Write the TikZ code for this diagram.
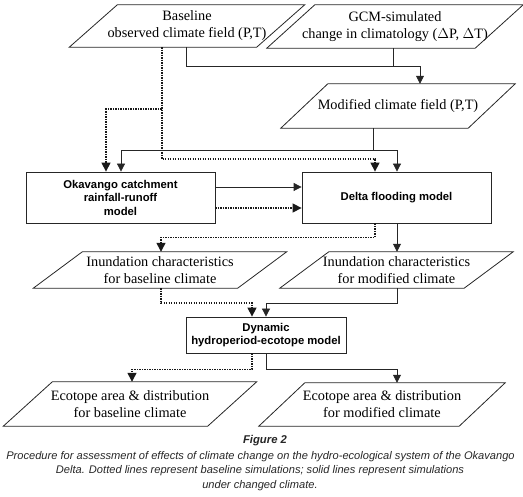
\documentclass[tikz,border=0pt]{standalone}
\usepackage{fontspec}
\setmainfont{Liberation Serif}
\setsansfont{Liberation Sans}
\usetikzlibrary{arrows.meta,calc}
\tikzset{
  paratext/.style={inner sep=0pt, align=center, font=\fontsize{14.3}{17}\selectfont},
  boxnode/.style={draw=black!85, line width=0.8pt, inner sep=0pt, align=center, font=\sffamily\bfseries\fontsize{11.3}{13.5}\selectfont},
  shapeline/.style={draw=black!85, line width=0.8pt, line join=miter},
  solidline/.style={draw=black!85, line width=0.8pt, -{Triangle[length=8pt,width=8pt]}},
  plainline/.style={draw=black!85, line width=0.8pt},
  dotline/.style={draw=black!90, line width=1.4pt, dash pattern=on 1.4pt off 1.1pt, -{Triangle[length=9pt,width=9pt]}},
  captxt/.style={inner sep=0pt, font=\sffamily\itshape\fontsize{11.1}{13}\selectfont, text=black!85},
  capbold/.style={inner sep=0pt, font=\sffamily\bfseries\itshape\fontsize{11.3}{13}\selectfont, text=black!85},
}
\newcommand\mypara[7]{%
  \node[paratext, minimum width=#4pt, minimum height=#5pt] (#1) at (#2,#3) {#7};
  \draw[shapeline] ([xshift=#6pt/2]#1.north west) -- ([xshift=#6pt/2]#1.north east)
     -- ([xshift=-#6pt/2]#1.south east) -- ([xshift=-#6pt/2]#1.south west) -- cycle;}
\begin{document}
\begin{tikzpicture}[x=1pt,y=1pt]
\useasboundingbox (0,0) rectangle (523,497);
% parallelograms
\mypara{base}{187}{471}{187}{42}{48}{Baseline\\observed climate field (P,T)}
\mypara{gcm}{395}{470.5}{208}{43}{48}{GCM-simulated\\change in climatology ($\Delta$P, $\Delta$T)}
\mypara{modf}{398}{391}{187}{44}{47}{Modified climate field (P,T)}
\mypara{inb}{160}{227}{204}{36}{49}{Inundation characteristics\\for baseline climate}
\mypara{inm}{396.5}{227}{184}{36}{49}{Inundation characteristics\\for modified climate}
\mypara{ecb}{130}{93}{204}{44}{49}{Ecotope area \& distribution\\for baseline climate}
\mypara{ecm}{382}{92.5}{200}{43}{46}{Ecotope area \& distribution\\for modified climate}
% boxes
\node[boxnode, minimum width=189pt, minimum height=51pt] (okav) at (120.5,299.5) {Okavango catchment\\rainfall-runoff\\model};
\node[boxnode, minimum width=189pt, minimum height=51pt] (delta) at (396.5,299.5) {Delta flooding model};
\node[boxnode, minimum width=160pt, minimum height=36pt] (dyn) at (266,162) {Dynamic\\hydroperiod-ecotope model};
% connectors: climate fields
\draw[solidline] ([xshift=-1pt]base.south) -- ++(0,-19) -| ([xshift=22pt]modf.north);
\draw[plainline] ([xshift=-2pt]gcm.south) -- ++(0,-18.5);
\draw[dotline] ([xshift=-25pt]base.south) -- ++(0,-62) -| ([xshift=-14.5pt]okav.north);
\draw[dotline] ([xshift=-25pt]base.south) -- ++(0,-112) -| ([xshift=-21.5pt]delta.north);
\draw[solidline] ([xshift=-25pt]modf.south) -- ++(0,-22) coordinate (m1) -| ([xshift=0.5pt]okav.north);
\draw[solidline] (m1) -| ([xshift=0.5pt]delta.north);
% catchment -> delta
\draw[solidline] ([yshift=10.5pt]okav.east) -- ([yshift=10.5pt]delta.west);
\draw[dotline] ([yshift=-10.5pt]okav.east) -- ([yshift=-10.5pt]delta.west);
% delta -> inundation
\draw[dotline] ([xshift=-21.5pt]delta.south) -- ++(0,-14) -| ([xshift=1pt]inb.north);
\draw[solidline] ([xshift=0.5pt]delta.south) -- ([xshift=0.5pt]inm.north);
% inundation -> dynamic
\draw[dotline] ([xshift=1pt]inb.south) -- ++(0,-15) -| ([xshift=-14pt]dyn.north);
\draw[solidline] ([xshift=0.5pt]inm.south) -- ++(0,-15) -| (dyn.north);
% dynamic -> ecotope
\draw[dotline] ([xshift=-14pt]dyn.south) -- ++(0,-16) -| ([xshift=2pt]ecb.north);
\draw[solidline] (dyn.south) -- ++(0,-16) -| ([xshift=15pt]ecm.north);
% caption
\node[capbold] (figlab) at (265,56) {Figure 2};
\node[captxt] (cap1) at (260.5,40) {Procedure for assessment of effects of climate change on the hydro-ecological system of the Okavango};
\node[captxt] (cap2) at (260,26) {Delta. Dotted lines represent baseline simulations; solid lines represent simulations};
\node[captxt] (cap3) at (260,11) {under changed climate.};
\end{tikzpicture}
\end{document}
